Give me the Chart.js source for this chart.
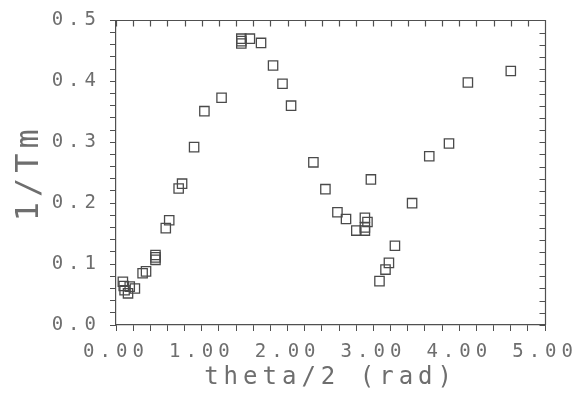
<!DOCTYPE html>
<html>
<head>
<meta charset="utf-8">
<script src="https://cdn.jsdelivr.net/npm/chart.js@4"></script>
<style>
  html, body { margin: 0; padding: 0; background: #fff; }
  #wrap { width: 588px; height: 399px; }
</style>
</head>
<body>
<div id="wrap"><canvas id="chart"></canvas></div>
<script>
// theta/2 (rad) values
const thetaHalf = [
  0.08, 0.09, 0.10, 0.14, 0.16, 0.22, 0.31, 0.35, 0.46, 0.46, 0.46,
  0.58, 0.62, 0.73, 0.77, 0.91, 1.03, 1.23,
  1.46, 1.46, 1.46, 1.56, 1.69, 1.83, 1.94, 2.04,
  2.30, 2.44, 2.58, 2.68, 2.80, 2.90, 2.90, 2.90, 2.93, 2.97,
  3.07, 3.14, 3.18, 3.25, 3.45, 3.65, 3.88, 4.10, 4.60
];
// 1/Tm values, same order
const invTm = [
  0.071, 0.064, 0.057, 0.052, 0.063, 0.060, 0.085, 0.088, 0.115, 0.107, 0.111,
  0.159, 0.172, 0.224, 0.232, 0.292, 0.351, 0.373,
  0.470, 0.462, 0.466, 0.470, 0.463, 0.426, 0.396, 0.360,
  0.267, 0.223, 0.185, 0.174, 0.155, 0.155, 0.160, 0.176, 0.169, 0.239,
  0.072, 0.091, 0.102, 0.130, 0.200, 0.277, 0.298, 0.398, 0.417
];
const xTitle = 'theta/2 (rad)';
const yTitle = '1/Tm';

const points = thetaHalf.map((x, i) => ({ x: x, y: invTm[i] }));

const lineColor = '#505050';
const textColor = '#6e6e6e';
const monoFont = "'DejaVu Sans Mono', 'Liberation Mono', monospace";

// wide, evenly spaced lettering like the plotter font
const spacing = {
  id: 'spacing',
  beforeLayout(chart) { chart.ctx.letterSpacing = '5px'; },
  beforeDraw(chart) { chart.ctx.letterSpacing = '5px'; }
};

// top and right edges of the frame, ticks pointing inwards
const frame = {
  id: 'frame',
  afterDraw(chart) {
    const ctx = chart.ctx, a = chart.chartArea;
    const xs = chart.scales.x, ys = chart.scales.y;
    const top = Math.round(a.top) + 0.5, right = Math.round(a.right) + 0.5;
    ctx.save();
    ctx.strokeStyle = lineColor;
    ctx.lineWidth = 1.2;
    ctx.beginPath();
    ctx.moveTo(a.left, top);
    ctx.lineTo(right, top);
    ctx.lineTo(right, a.bottom);
    xs.ticks.forEach(t => {
      const px = Math.round(xs.getPixelForValue(t.value)) + 0.5;
      ctx.moveTo(px, top);
      ctx.lineTo(px, top + 6);
    });
    ys.ticks.forEach(t => {
      const py = Math.round(ys.getPixelForValue(t.value)) + 0.5;
      ctx.moveTo(right, py);
      ctx.lineTo(right - 6, py);
    });
    ctx.stroke();
    ctx.restore();
    // read back once so the headless capture gets the finished canvas
    ctx.getImageData(0, 0, 1, 1);
  }
};

const near = (v, step) => Math.abs(v / step - Math.round(v / step)) < 1e-6;

const canvas = document.getElementById('chart');
canvas.getContext('2d', { willReadFrequently: true });

new Chart(canvas, {
  type: 'scatter',
  data: {
    datasets: [{
      data: points,
      pointStyle: 'rect',
      pointRadius: 6.6,
      pointHoverRadius: 6.6,
      borderColor: '#4a4a4a',
      backgroundColor: 'rgba(0,0,0,0)',
      pointBorderWidth: 1.3
    }]
  },
  options: {
    responsive: true,
    maintainAspectRatio: false,
    animation: false,
    layout: { padding: { top: 20, right: 35, left: 0, bottom: 0 } },
    plugins: { legend: { display: false }, tooltip: { enabled: false } },
    scales: {
      x: {
        type: 'linear',
        min: 0,
        max: 5,
        afterFit(s) { s.height = 74; },
        border: { display: true, color: lineColor, width: 1.2 },
        grid: { drawOnChartArea: false, color: lineColor, tickLength: 6 },
        ticks: {
          stepSize: 0.2,
          autoSkip: false,
          maxRotation: 0,
          padding: 10,
          color: textColor,
          font: { family: monoFont, size: 19 },
          callback: v => near(v, 1) ? v.toFixed(2) : ''
        },
        title: {
          display: true,
          text: xTitle,
          color: textColor,
          font: { family: monoFont, size: 24 },
          padding: { top: 0, bottom: 7 }
        }
      },
      y: {
        type: 'linear',
        min: 0,
        max: 0.5,
        afterFit(s) { s.width = 116; },
        border: { display: true, color: lineColor, width: 1.2 },
        grid: { drawOnChartArea: false, color: lineColor, tickLength: 6 },
        ticks: {
          stepSize: 0.02,
          autoSkip: false,
          padding: 9,
          color: textColor,
          font: { family: monoFont, size: 19 },
          callback: v => near(v, 0.1) ? v.toFixed(1) : ''
        },
        title: {
          display: true,
          text: yTitle,
          color: textColor,
          font: { family: monoFont, size: 32 },
          padding: { top: 10, bottom: 0 }
        }
      }
    }
  },
  plugins: [spacing, frame]
});
</script>
</body>
</html>
